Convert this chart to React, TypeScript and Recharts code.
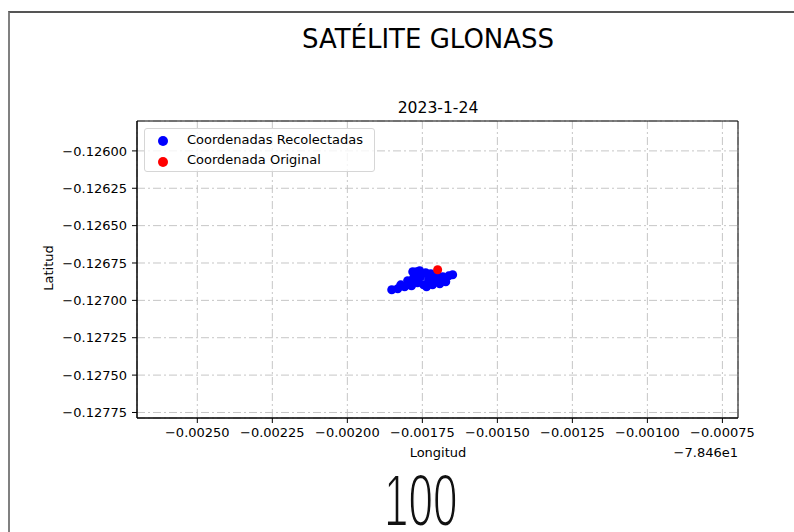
import {
  ScatterChart,
  Scatter,
  XAxis,
  YAxis,
  ZAxis,
  CartesianGrid,
  ReferenceArea,
  Legend,
} from 'recharts';

// longitudes are full values; the axis shows them as offsets from -78.46
const LON_OFFSET = -78.46;

const lonRecolectadas = [
  -78.461852, -78.461832, -78.461822, -78.461809, -78.461799, -78.461792,
  -78.461782, -78.461779, -78.461769, -78.461766, -78.461759, -78.461756,
  -78.461746, -78.461739, -78.461736, -78.461729, -78.461722, -78.461716,
  -78.461706, -78.461699, -78.461692, -78.461682, -78.461672, -78.461662,
  -78.461649, -78.461786, -78.461712, -78.461676,
];
const latRecolectadas = [
  -0.126929, -0.126922, -0.126896, -0.126909, -0.126869, -0.126896,
  -0.126809, -0.126849, -0.126809, -0.126882, -0.126802, -0.126842,
  -0.126896, -0.126815, -0.126909, -0.126862, -0.126822, -0.126896,
  -0.126856, -0.126836, -0.126889, -0.126842, -0.126876, -0.126836,
  -0.126829, -0.126902, -0.126872, -0.126858,
];
const lonOriginal = [-78.461699];
const latOriginal = [-0.126795];

const seriesNames = ['Coordenadas Recolectadas', 'Coordenada Original'];

const xTicks = [-78.4625, -78.46225, -78.462, -78.46175, -78.4615, -78.46125, -78.461, -78.46075];
const yTicks = [-0.126, -0.12625, -0.1265, -0.12675, -0.127, -0.12725, -0.1275, -0.12775];
const xDomain: [number, number] = [-78.462701, -78.460698];
const yDomain: [number, number] = [-0.127787, -0.1258];

const recolectadas = lonRecolectadas.map((lon, i) => ({ lon, lat: latRecolectadas[i] }));
const original = lonOriginal.map((lon, i) => ({ lon, lat: latOriginal[i] }));

const FONT = '"DejaVu Sans", sans-serif';

const fmtX = (v: number) => (v - LON_OFFSET).toFixed(5).replace('-', '\u2212');
const fmtY = (v: number) => v.toFixed(5).replace('-', '\u2212');

function LegendBox({ payload }: { payload?: any[] }) {
  const items = (payload || [])
    .slice()
    .sort((a: any, b: any) => seriesNames.indexOf(a.value) - seriesNames.indexOf(b.value));
  return (
    <div
      style={{
        width: 229,
        height: 42,
        border: '1px solid #d6d6d6',
        borderRadius: 3,
        background: 'rgba(255,255,255,0.8)',
        fontFamily: FONT,
        fontSize: 13,
        color: '#000',
        position: 'relative',
        textAlign: 'left',
      }}
    >
      {items.map((it: any, i: number) => (
        <div key={i} style={{ position: 'absolute', left: 0, top: 3 + i * 20, height: 16, width: 229 }}>
          <span
            style={{
              position: 'absolute',
              left: 13,
              top: 4 + i,
              width: 10,
              height: 10,
              borderRadius: '50%',
              background: it.color,
            }}
          />
          <span style={{ position: 'absolute', left: 42, top: 0, lineHeight: '16px', whiteSpace: 'nowrap' }}>
            {it.value}
          </span>
        </div>
      ))}
    </div>
  );
}

export default function App() {
  return (
    <div style={{ position: 'relative', width: 794, height: 532, background: '#fff', overflow: 'hidden' }}>
      <style>{'body{margin:0}'}</style>

      {/* outer frame */}
      <div
        style={{
          position: 'absolute',
          left: 8,
          top: 11,
          width: 800,
          height: 540,
          borderTop: '2px solid #555',
          borderLeft: '2px solid #808080',
        }}
      />

      <div
        style={{
          position: 'absolute',
          left: 228,
          width: 400,
          top: 24,
          lineHeight: '30px',
          textAlign: 'center',
          fontFamily: FONT,
          fontSize: 26,
          color: '#000',
        }}
      >
        SATÉLITE GLONASS
      </div>
      <div
        style={{
          position: 'absolute',
          left: 338,
          width: 200,
          top: 99,
          lineHeight: '18px',
          textAlign: 'center',
          fontFamily: FONT,
          fontSize: 15.6,
          color: '#000',
        }}
      >
        2023-1-24
      </div>

      <div style={{ position: 'absolute', left: 0, top: 0 }}>
        <ScatterChart width={794} height={532} margin={{ top: 121, right: 56, bottom: 84, left: 57 }}>
          <CartesianGrid stroke="#c6c6c6" strokeDasharray="8 3 2 3" />
          <XAxis
            type="number"
            dataKey="lon"
            domain={xDomain}
            ticks={xTicks}
            interval={0}
            allowDataOverflow
            height={30}
            tickFormatter={fmtX}
            tick={{ fill: '#000', fontSize: 13, fontFamily: FONT }}
            tickLine={{ stroke: '#000' }}
            axisLine={{ stroke: '#000' }}
            tickSize={5}
            tickMargin={5}
          />
          <YAxis
            type="number"
            dataKey="lat"
            domain={yDomain}
            ticks={yTicks}
            interval={0}
            allowDataOverflow
            width={80}
            tickFormatter={fmtY}
            tick={{ fill: '#000', fontSize: 13, fontFamily: FONT }}
            tickLine={{ stroke: '#000' }}
            axisLine={{ stroke: '#000' }}
            tickSize={5}
            tickMargin={5}
          />
          <ZAxis range={[80, 80]} />
          <ReferenceArea
            x1={xDomain[0]}
            x2={xDomain[1]}
            y1={yDomain[0]}
            y2={yDomain[1]}
            fill="none"
            fillOpacity={0}
            stroke="#000"
            strokeWidth={1}
          />
          <Legend
            layout="horizontal"
            verticalAlign="middle"
            align="center"
            content={(props: any) => <LegendBox payload={props.payload} />}
            wrapperStyle={{ left: 144, top: 128, width: 231, height: 44 }}
          />
          <Scatter name={seriesNames[0]} data={recolectadas} fill="#0000ff" isAnimationActive={false} />
          <Scatter name={seriesNames[1]} data={original} fill="#ff0000" isAnimationActive={false} />
        </ScatterChart>
      </div>

      {/* axis labels */}
      <div
        style={{
          position: 'absolute',
          left: 338,
          width: 200,
          top: 445,
          lineHeight: '16px',
          textAlign: 'center',
          fontFamily: FONT,
          fontSize: 13,
        }}
      >
        Longitud
      </div>
      <div
        style={{
          position: 'absolute',
          left: 538,
          width: 200,
          top: 445,
          lineHeight: '16px',
          textAlign: 'right',
          fontFamily: FONT,
          fontSize: 13,
        }}
      >
        {'\u22127.846e1'}
      </div>
      <div
        style={{
          position: 'absolute',
          left: 49 - 50,
          top: 268 - 8,
          width: 100,
          lineHeight: '16px',
          textAlign: 'center',
          fontFamily: FONT,
          fontSize: 13,
          transform: 'rotate(-90deg)',
        }}
      >
        Latitud
      </div>

      {/* counter display */}
      <svg style={{ position: 'absolute', left: 0, top: 0 }} width={794} height={532}>
        <text
          x={384}
          y={311}
          transform="scale(1,1.69)"
          fontFamily='"Liberation Sans", sans-serif'
          fontSize={44}
          fill="#111"
          stroke="#fff"
          strokeWidth={1.2}
        >
          100
        </text>
      </svg>
    </div>
  );
}
